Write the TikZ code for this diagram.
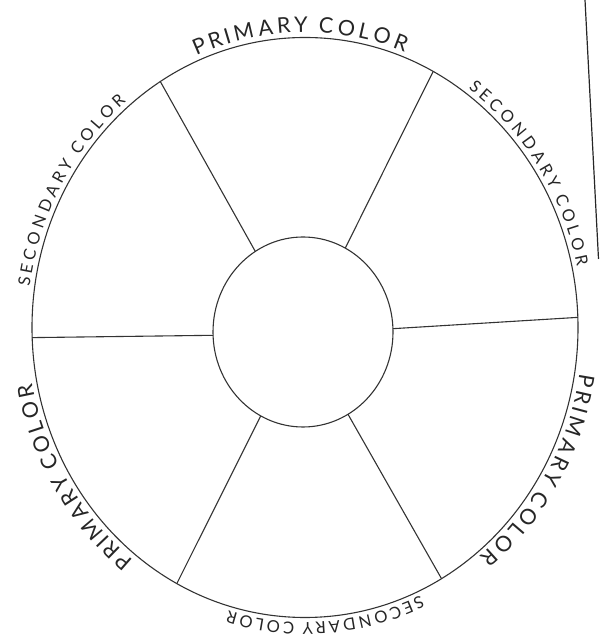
\documentclass[tikz,border=0pt]{standalone}
\usepackage{fontspec}
\setmainfont{Lato}
\usetikzlibrary{calc,decorations.text}

\newcommand{\primfont}{\fontsize{21.5}{21.5}\selectfont}
\newcommand{\secfont}{\fontsize{16.5}{16.5}\selectfont}

\begin{document}
\begin{tikzpicture}[x=1pt, y=1pt,
  outline/.style={draw=black!80, line width=1.1pt},
  rimlabel/.style 2 args={decorate, decoration={text effects along path, text={#1},
                   text effects/.cd, text along path, fit text to path,
                   characters={font=#2, text=black!85}}},
  primary/.style={rimlabel={#1}{\primfont}},
  secondary/.style={rimlabel={#1}{\secfont}},
]
  \useasboundingbox (0,0) rectangle (599,639);
  % centres of rim and hub (the scan is a little squashed)
  \coordinate (rim) at (305,311.5);
  \coordinate (hub) at (303,307);
  % the wheel
  \draw[outline] (rim) ellipse [x radius=273, y radius=290];
  \draw[outline] (hub) ellipse [x radius=90, y radius=95];
  \foreach \a in {2,62,122,182,242,300}
    \draw[outline] ($(hub)+(\a:90 and 95)$) -- ($(rim)+(\a:273 and 290)$);
  % labels round the rim, read clockwise
  \path[primary={PRIMARY COLOR}] (rim) ++(113:278 and 295)
    arc[start angle=113, end angle=69, x radius=278, y radius=295];
  \path[secondary={SECONDARY COLOR}] (rim) ++(54:278 and 295)
    arc[start angle=54, end angle=12, x radius=278, y radius=295];
  \path[primary={PRIMARY COLOR}] (rim) ++(351:278 and 295)
    arc[start angle=351, end angle=309, x radius=278, y radius=295];
  \path[secondary={SECONDARY COLOR}] (rim) ++(294.5:278 and 295)
    arc[start angle=294.5, end angle=254, x radius=278, y radius=295];
  \path[primary={PRIMARY COLOR}] (rim) ++(232:278 and 295)
    arc[start angle=232, end angle=191, x radius=278, y radius=295];
  \path[secondary={SECONDARY COLOR}] (rim) ++(172:278 and 295)
    arc[start angle=172, end angle=130, x radius=278, y radius=295];
  % edge of the scanned page
  \draw[black!85, line width=1.2pt] (585,639) -- (598.5,380);
\end{tikzpicture}
\end{document}
